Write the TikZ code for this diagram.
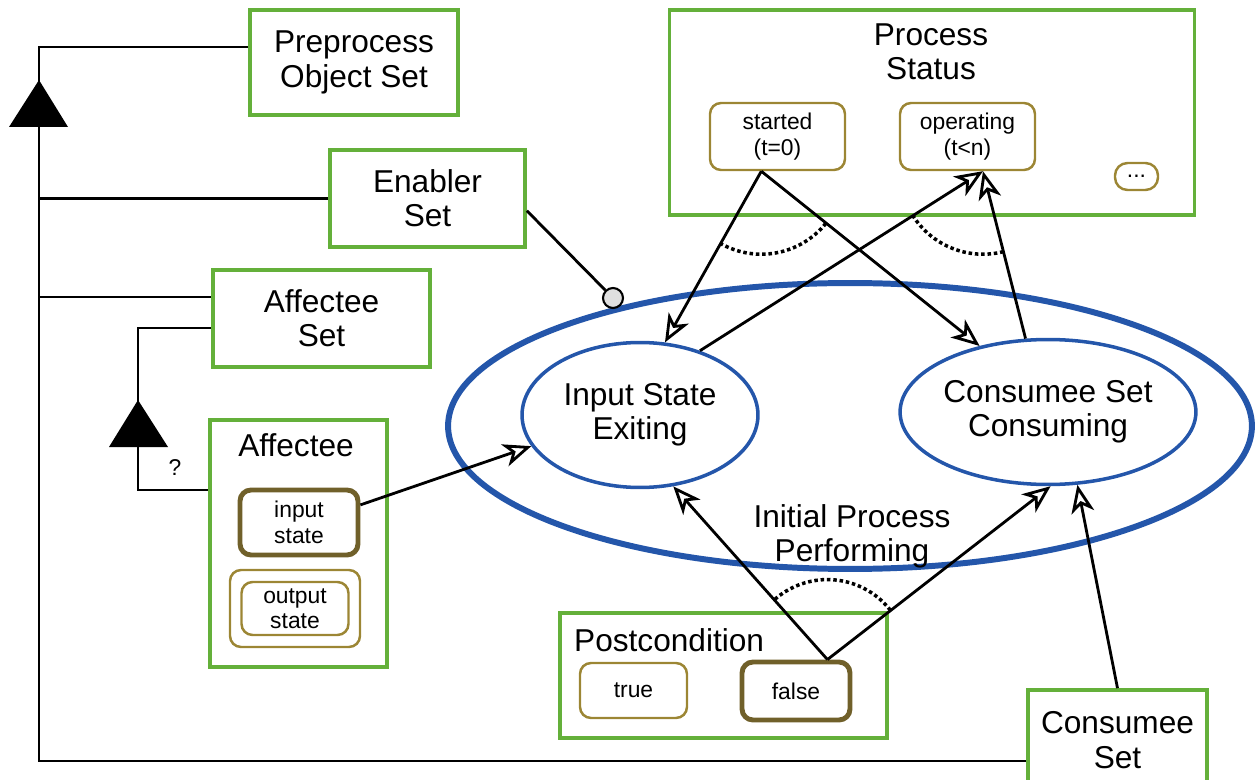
\documentclass[tikz,border=0pt]{standalone}
\usepackage{fontspec}
\setmainfont{Liberation Sans}
\setsansfont{Liberation Sans}
\usetikzlibrary{shapes.geometric, arrows.meta}
\definecolor{boxgreen}{RGB}{100,176,58}
\definecolor{stateolive}{RGB}{156,134,52}
\definecolor{stateheavy}{RGB}{112,96,42}
\definecolor{procblue}{RGB}{36,86,170}
\newcommand{\bigtxt}{\fontsize{18}{19.5}\selectfont}
\newcommand{\smalltxt}{\fontsize{13}{14.5}\selectfont}

\begin{document}
\begin{tikzpicture}[x=0.02cm, y=0.02cm, font=\sffamily,
    setbox/.style={draw=boxgreen, line width=2.1pt, align=center, font=\bigtxt, inner sep=0pt},
    statebox/.style={draw=stateolive, line width=1.4pt, rounded corners=0.22cm, align=center, font=\smalltxt, inner sep=0pt},
    statenow/.style={statebox, draw=stateheavy, line width=2.8pt},
    procell/.style={ellipse, draw=procblue, line width=2pt, align=center, font=\bigtxt, inner sep=0pt},
    flow/.style={line width=1.6pt, -{Stealth[length=0.56cm, width=0.46cm, inset=0.16cm, fill=white]}},
    link/.style={line width=1.6pt},
    angarc/.style={line width=2pt, dash pattern=on 2pt off 1.6pt}]
    \useasboundingbox (0,0) rectangle (1259,779);

    % Object sets
    \node[setbox, minimum width=4.16cm, minimum height=2.1cm] (prep) at (354,716.5) {Preprocess\\Object Set};
    \node[setbox, minimum width=3.9cm, minimum height=1.94cm] (enab) at (427.5,580.5) {Enabler\\Set};
    \node[setbox, minimum width=4.34cm, minimum height=1.94cm] (affset) at (321.5,460.5) {Affectee\\Set};
    \node[setbox, minimum width=3.58cm, minimum height=2cm] (conset) at (1117.5,39) {Consumee\\Set};

    % Affectee with its states
    \node[setbox, minimum width=3.54cm, minimum height=4.94cm] (affbox) at (298.5,235.5) {};
    \node[font=\bigtxt] (afftitle) at (296,334) {Affectee};
    \node[statenow, minimum width=2.36cm, minimum height=1.3cm] (instate) at (299,256.5) {input\\state};
    \node[statebox, minimum width=2.6cm, minimum height=1.54cm] (outframe) at (295,170.5) {};
    \node[statebox, minimum width=2.14cm, minimum height=1.06cm] (outstate) at (295,170.5) {output\\state};

    % Process status
    \node[setbox, minimum width=10.5cm, minimum height=4.1cm] (status) at (932,666.5) {};
    \node[font=\bigtxt, align=center] (stattitle) at (931,727) {Process\\Status};
    \node[statebox, minimum width=2.7cm, minimum height=1.34cm] (started) at (777.5,642.5) {started\\(t=0)};
    \node[statebox, minimum width=2.7cm, minimum height=1.34cm] (operating) at (967.5,642.5) {operating\\(t\textless n)};
    \node[statebox, rounded corners=0.25cm, minimum width=0.86cm, minimum height=0.54cm] (more) at (1136.5,602.5) {...};

    % Postcondition
    \node[setbox, minimum width=6.54cm, minimum height=2.5cm] (post) at (723.5,103.5) {};
    \node[font=\bigtxt, anchor=west] (posttitle) at (568,139) {Postcondition};
    \node[statebox, minimum width=2.14cm, minimum height=1.1cm] (true) at (633.5,88.5) {true};
    \node[statenow, minimum width=2.16cm, minimum height=1.16cm] (false) at (796,88) {false};

    % Processes
    \node[procell, line width=3.4pt, minimum width=16.08cm, minimum height=5.72cm] (perf) at (850,353) {};
    \node[font=\bigtxt, align=center] (perftxt) at (852,243) {Initial Process\\Performing};
    \node[procell, minimum width=4.72cm, minimum height=2.9cm] (isexit) at (640,364) {Input State\\Exiting};
    \node[procell, minimum width=5.54cm, minimum height=2.9cm] (consum) at (1048,367) {Consumee Set\\Consuming};

    % Enabler link
    \node[circle, draw, fill=gray!25, line width=1.2pt, minimum size=0.4cm, inner sep=0pt] (encirc) at (613,481) {};
    \draw[link] (enab.-7) -- (encirc);

    % Aggregation tree
    \coordinate (trtop) at (39,732);
    \coordinate (trbot) at (39,18);
    \coordinate (traff) at (39,482);
    \draw[link] (trtop -| prep.west) -- (trtop) -- (trbot) -- (trbot -| conset.west);
    \draw[link] (trtop |- enab.west) -- (enab.west);
    \draw[link] (traff) -- (traff -| affset.west);
    \fill (39,699) -- (68,652) -- (9,652) -- cycle;

    % Affectee tree
    \coordinate (subtop) at (138,451);
    \coordinate (subbot) at (138,289);
    \draw[link] (subtop -| affset.west) -- (subtop) -- (subbot) -- (subbot -| affbox.west);
    \fill (138,379) -- (168,332) -- (109,332) -- cycle;
    \node[font=\smalltxt] (qmark) at (175,311) {?};

    % Transitions
    \coordinate (sttip) at (started.245);
    \coordinate (optip) at (operating.-66);
    \coordinate (fatip) at (false.45);
    \draw[flow] (instate.16) -- (isexit.196);
    \draw[flow] (sttip) -- (isexit.71);
    \draw[flow] (sttip) -- (consum.136);
    \draw[flow] (isexit.47) -- (optip);
    \draw[flow] (consum.107) -- (optip);
    \draw[flow] (fatip) -- (isexit.-65);
    \draw[flow] (fatip) -- (consum.-88);
    \draw[flow] (conset.north) -- (consum.-68);

    % XOR arcs
    \draw[angarc] ([shift={(240:1.66cm)}]sttip) arc[start angle=240, end angle=321, radius=1.66cm];
    \draw[angarc] ([shift={(212:1.66cm)}]optip) arc[start angle=212, end angle=284, radius=1.66cm];
    \draw[angarc] ([shift={(38:1.6cm)}]fatip) arc[start angle=38, end angle=131, radius=1.6cm];
\end{tikzpicture}
\end{document}
